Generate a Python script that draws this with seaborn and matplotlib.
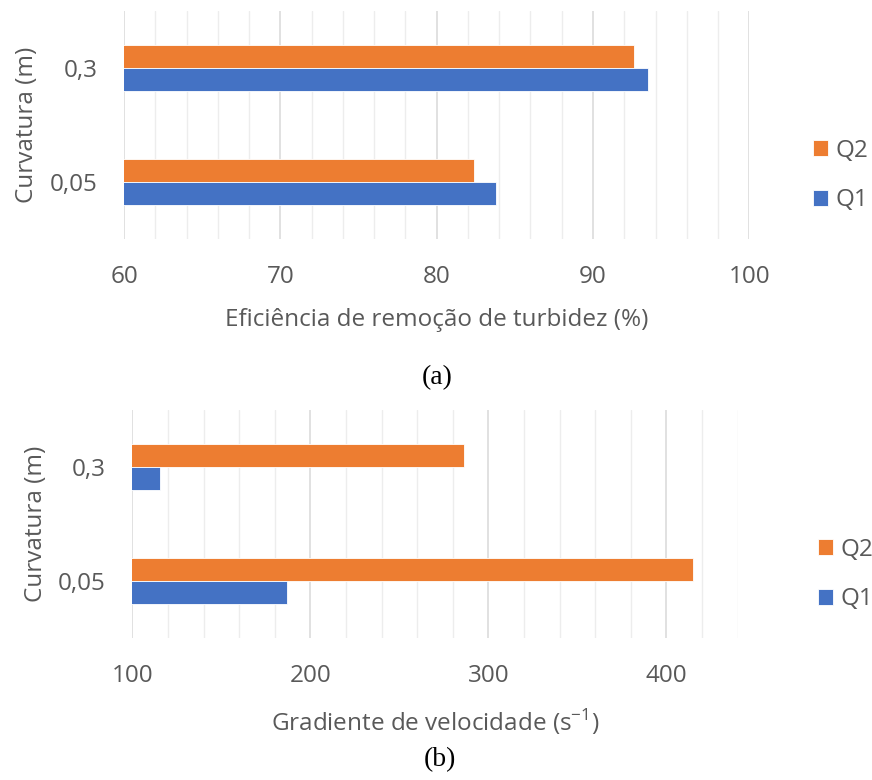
import pandas as pd
import matplotlib.pyplot as plt
import seaborn as sns
from matplotlib.ticker import MultipleLocator

# values
curvatura = ["0,3", "0,05"]
eficiencia_q1 = [93.5, 83.8]
eficiencia_q2 = [92.6, 82.4]
gradiente_q1 = [115.7, 186.9]
gradiente_q2 = [286.3, 415.0]

sns.set_style("white")
plt.rcParams['font.family'] = ['Open Sans', 'DejaVu Sans']

cores = {"Q2": "#ED7D31", "Q1": "#4472C4"}
cinza = "#595959"
fs = 17.5


def monta_df(q1, q2):
    rows = []
    for c, v1, v2 in zip(curvatura, q1, q2):
        rows.append({"curvatura": c, "vazao": "Q2", "valor": v2})
        rows.append({"curvatura": c, "vazao": "Q1", "valor": v1})
    return pd.DataFrame(rows)


df_a = monta_df(eficiencia_q1, eficiencia_q2)
df_b = monta_df(gradiente_q1, gradiente_q2)

fig = plt.figure(figsize=(8.72, 7.8), dpi=100)
ax_a = fig.add_axes([124 / 872, 1 - 239 / 780, (749.3 - 124) / 872, 228 / 780])
ax_b = fig.add_axes([132.3 / 872, 1 - 638 / 780, (737.7 - 132.3) / 872, 228 / 780])

paineis = [
    (ax_a, df_a, (60, 100), 10, 2, "Eficiência de remoção de turbidez (%)", 813, 0.775),
    (ax_b, df_b, (100, 440), 100, 20, "Gradiente de velocidade (s$^{\\mathregular{-1}}$)", 818, 0.2635),
]

for ax, df, xlim, major, minor, xlabel, leg_x, leg_y in paineis:
    sns.barplot(data=df, y="curvatura", x="valor", hue="vazao", order=curvatura,
                hue_order=["Q2", "Q1"], palette=cores, saturation=1, width=0.4,
                orient="h", edgecolor="white", linewidth=0.6, ax=ax)
    ax.set_xlim(*xlim)
    ax.set_ylim(1.5, -0.5)
    ax.xaxis.set_major_locator(MultipleLocator(major))
    ax.xaxis.set_minor_locator(MultipleLocator(minor))
    ax.set_axisbelow(True)
    ax.grid(axis="x", which="major", color="#D9D9D9", linewidth=1.1)
    ax.grid(axis="x", which="minor", color="#EDEDED", linewidth=1.0)
    ax.grid(axis="y", visible=False)
    for s in ax.spines.values():
        s.set_visible(False)
    ax.tick_params(axis="both", which="both", length=0, labelsize=fs, colors=cinza)
    ax.tick_params(axis="x", pad=19)
    ax.tick_params(axis="y", pad=19)
    ax.set_xlabel(xlabel, fontsize=fs, color=cinza, labelpad=13.5)
    ax.set_ylabel("Curvatura (m)", fontsize=fs, color=cinza, labelpad=7.5)

    handles, labels = ax.get_legend_handles_labels()
    ax.get_legend().remove()
    fig.legend(handles, labels, loc="center left",
               bbox_to_anchor=(leg_x / 872, leg_y),
               bbox_transform=fig.transFigure, frameon=False, fontsize=fs,
               labelcolor=cinza, handlelength=0.62, handleheight=0.62,
               handletextpad=0.3, labelspacing=1.05, borderpad=0, borderaxespad=0)

fig.text(437 / 872, 1 - 378 / 780, "(a)", ha="center", va="center",
         fontsize=20, family=["Liberation Serif"], color="black")
fig.text(440 / 872, 1 - 760 / 780, "(b)", ha="center", va="center",
         fontsize=20, family=["Liberation Serif"], color="black")

fig.savefig("out.png", dpi=100)
